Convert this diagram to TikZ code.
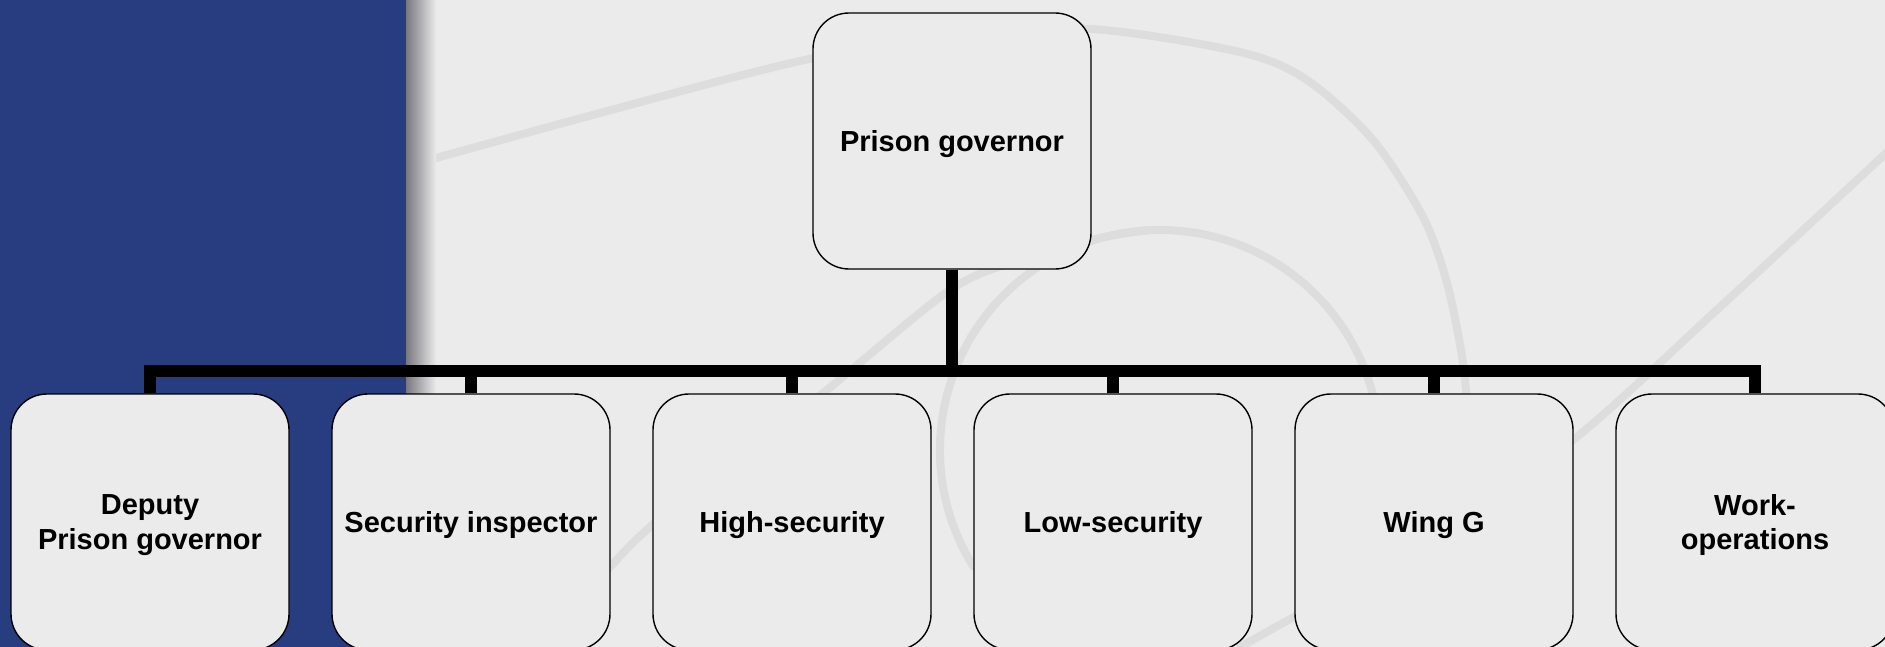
\documentclass[tikz,border=0pt]{standalone}
\usepackage{fontspec}
\setmainfont{Liberation Sans}
\definecolor{bg}{RGB}{235,235,235}
\definecolor{panel}{RGB}{40,60,128}
\definecolor{swirl}{RGB}{221,221,221}
\definecolor{shadowdark}{RGB}{120,120,126}
\definecolor{shadowmid}{RGB}{192,188,198}
\begin{document}
\begin{tikzpicture}[x=0.5pt,y=-0.5pt,
  box/.style={draw=black, line width=0.7pt, fill=bg, rounded corners=18pt,
    minimum width=139pt, minimum height=128pt, inner sep=0pt, align=center,
    text depth=0pt, font=\fontsize{14.5}{17.4}\selectfont\bfseries},
  conn/.style={line width=5.8pt, line join=miter, line cap=butt},
  swirlline/.style={swirl, line width=4pt, line cap=round}]
\useasboundingbox (0,0) rectangle (1885,647);
\clip (0,0) rectangle (1885,647);
% background
\fill[bg] (0,0) rectangle (1885,647);
% faint swirl decorations
\draw[swirlline, line cap=butt] plot[smooth] coordinates {(400,168) (600,113) (800,61) (950,36) (1091,29) (1240,52) (1307,80) (1373,140) (1423,217) (1447,283) (1463,363) (1470,440)};
\draw[swirlline] (1160,450) ++(148:220) arc[start angle=148, end angle=372, radius=220];
\draw[swirlline] plot[smooth] coordinates {(540,647) (610,567) (650,527) (730,462) (823,393) (947,292) (1013,262) (1100,238) (1150,230)};
\draw[swirlline] plot[smooth] coordinates {(1900,140) (1720,307) (1573,440) (1420,545) (1265,633) (1240,647)};
% left panel and its shadow
\fill[panel] (0,0) rectangle (406,647);
\shade[left color=shadowdark, middle color=shadowmid, right color=bg] (406,0) rectangle (436,647);
% nodes
\node[box] (top) at (952,141) {Prison governor};
\node[box] (b1) at (150,522) {Deputy\\Prison governor};
\node[box] (b2) at (471,522) {Security inspector};
\node[box] (b3) at (792,522) {High-security};
\node[box] (b4) at (1113,522) {Low-security};
\node[box] (b5) at (1434,522) {Wing G};
\node[box] (b6) at (1755,522) {Work-\\operations};
% connectors
\coordinate (bus) at (952,371);
\foreach \k in {1,...,6}
  \draw[conn] (top.south) -- (bus) -| (b\k.north);
\end{tikzpicture}
\end{document}
